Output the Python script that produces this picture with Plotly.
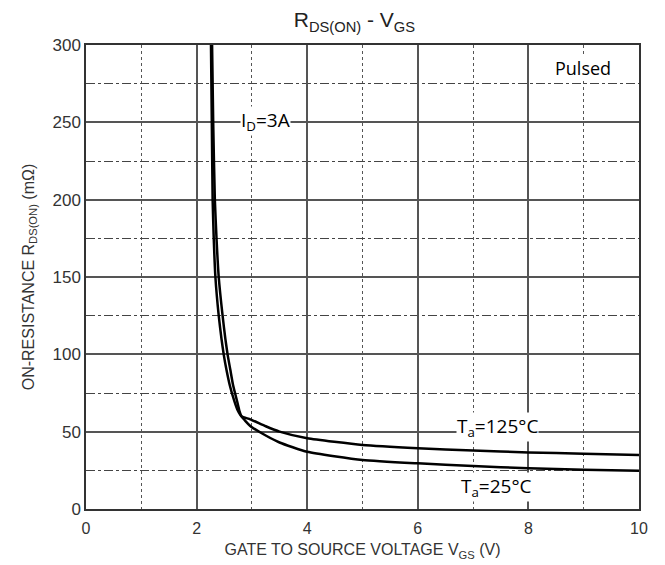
import plotly.graph_objects as go

# Data
vgs_125 = [2.26, 2.275, 2.29, 2.31, 2.34, 2.40, 2.45, 2.49, 2.54, 2.60, 2.68, 2.74, 2.81, 2.97, 3.25, 3.50, 4.00, 5.00, 6.00, 7.00, 8.00, 9.00, 10.00]
rds_125 = [300, 250, 200, 175, 150, 125, 110, 100, 90, 80, 70, 64, 60, 58, 53.5, 50, 45.7, 41.4, 39.3, 37.8, 36.6, 35.7, 34.9]
vgs_25 = [2.28, 2.30, 2.33, 2.36, 2.40, 2.47, 2.52, 2.56, 2.61, 2.66, 2.73, 2.77, 2.81, 2.97, 3.25, 3.50, 4.00, 5.00, 6.00, 7.00, 8.00, 9.00, 10.00]
rds_25 = [300, 250, 200, 175, 150, 125, 110, 100, 90, 80, 70, 64, 60, 53.7, 47.5, 43, 37, 31.7, 29.5, 27.8, 26.3, 25.4, 24.8]

x_ticks = [0, 2, 4, 6, 8, 10]
y_ticks = [0, 50, 100, 150, 200, 250, 300]

fig = go.Figure()
for xs, ys in [(vgs_125, rds_125), (vgs_25, rds_25)]:
    fig.add_trace(go.Scatter(x=xs, y=ys, mode="lines",
                             line=dict(color="black", width=2.5, shape="spline", smoothing=0.5),
                             showlegend=False, hoverinfo="skip"))

ann_font = dict(family="Open Sans", size=19, color="black")
fig.add_annotation(x=3.25, y=251, text="I<sub>D</sub>=3A", showarrow=False, bgcolor="white", font=ann_font, borderpad=0)
fig.add_annotation(x=8.99, y=285, text="Pulsed", showarrow=False, bgcolor="white", font=dict(family="Open Sans", size=18, color="black"), borderpad=0)
fig.add_annotation(x=7.45, y=53, text="T<sub>a</sub>=125°C", showarrow=False, bgcolor="white", font=ann_font, borderpad=0)
fig.add_annotation(x=7.43, y=14, text="T<sub>a</sub>=25°C", showarrow=False, bgcolor="white", font=ann_font, borderpad=0)

fig.update_layout(
    width=665, height=565,
    margin=dict(l=86, r=26, t=45, b=56),
    paper_bgcolor="white", plot_bgcolor="white",
    font=dict(family="Liberation Sans", size=16, color="#333333"),
    title=dict(text="R<sub>DS(ON)</sub> - V<sub>GS</sub>", x=0.533, xanchor="center", y=0.965, yanchor="middle",
               font=dict(size=21, color="#222222")),
    xaxis=dict(range=[0, 10], tickvals=x_ticks, ticks="", showline=True, linecolor="#333", linewidth=1.5, mirror=True,
               showgrid=True, gridcolor="#555555", gridwidth=1.5, zeroline=False, automargin=False,
               minor=dict(dtick=1, tick0=0, showgrid=True, gridcolor="#555555", griddash="dot", gridwidth=1.2),
               title=dict(text="GATE TO SOURCE VOLTAGE V<sub>GS</sub> (V)", standoff=8, font=dict(size=16)),
               tickfont=dict(size=16), ticklabelstandoff=4),
    yaxis=dict(range=[0, 300], tickvals=y_ticks, ticks="", showline=True, linecolor="#333", linewidth=1.5, mirror=True,
               showgrid=True, gridcolor="#555555", gridwidth=1.5, zeroline=False, automargin=False,
               minor=dict(dtick=25, tick0=0, showgrid=True, gridcolor="#444444", griddash="dashdot", gridwidth=1.2),
               title=dict(text="ON-RESISTANCE R<sub>DS(ON)</sub> (mΩ)", standoff=14, font=dict(size=16)),
               tickfont=dict(size=17)),
)

fig.write_html("out.html")
